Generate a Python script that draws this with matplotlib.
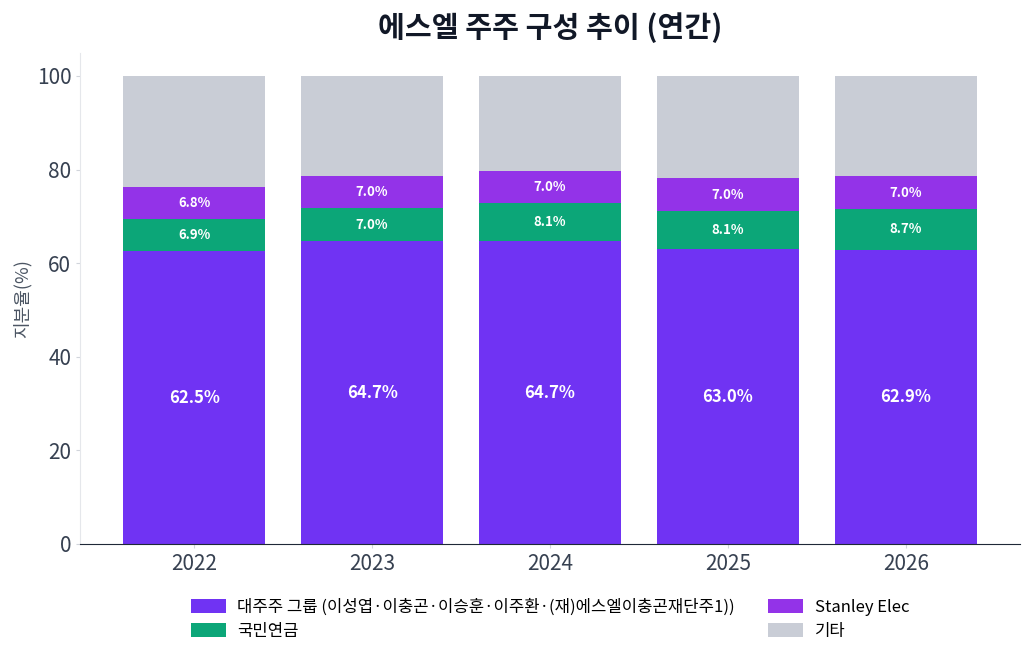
import numpy as np
import matplotlib
matplotlib.use("Agg")
import matplotlib.pyplot as plt

plt.rcParams['font.family'] = ['Noto Sans CJK KR', 'DejaVu Sans']

years = ['2022', '2023', '2024', '2025', '2026']
major = [62.5, 64.7, 64.7, 63.0, 62.9]
nps = [6.9, 7.0, 8.1, 8.1, 8.7]
stanley = [6.8, 7.0, 7.0, 7.0, 7.0]
others = [100 - a - b - c for a, b, c in zip(major, nps, stanley)]

labels = ['대주주 그룹 (이성엽·이충곤·이승훈·이주환·(재)에스엘이충곤재단주1))',
          '국민연금', 'Stanley Elec', '기타']
colors = ['#7033f3', '#0ca678', '#9333e8', '#c9cdd6']

fig, ax = plt.subplots(figsize=(10.3, 6.57), dpi=100)
x = np.arange(len(years))
width = 0.8

bottom = np.zeros(len(years))
series = [major, nps, stanley, others]
for i, vals in enumerate(series):
    vals = np.array(vals)
    ax.bar(x, vals, width, bottom=bottom, color=colors[i], label=labels[i])
    if i < 3:
        for xi, b, v in zip(x, bottom, vals):
            ax.text(xi, b + v / 2, f'{v:.1f}%', ha='center', va='center',
                    color='white', fontweight='bold',
                    fontsize=12 if i == 0 else 9.5)
    bottom = bottom + vals

ax.set_xticks(x)
ax.set_xticklabels(years)
ax.set_ylim(0, 105)
ax.set_yticks([0, 20, 40, 60, 80, 100])
ax.tick_params(axis='both', labelsize=15, colors='#374151', length=3)
ax.tick_params(axis='both', color='#d1d5db')
ax.set_ylabel('지분율(%)', fontsize=13, color='#4b5563')

ax.spines['top'].set_visible(False)
ax.spines['right'].set_visible(False)
ax.spines['left'].set_color('#e5e7eb')
ax.spines['bottom'].set_color('#1f2937')

ax.set_title('에스엘 주주 구성 추이 (연간)', fontsize=21, fontweight='bold',
             color='#111827', pad=11)

ax.legend(loc='upper center', bbox_to_anchor=(0.5, -0.08), ncol=2,
          frameon=False, fontsize=12, columnspacing=2.0,
          handlelength=2.1, handleheight=0.9, handletextpad=0.7,
          labelspacing=0.42)

fig.subplots_adjust(left=0.078, right=0.99, top=0.92, bottom=0.172)
fig.savefig('out.png', dpi=100)
